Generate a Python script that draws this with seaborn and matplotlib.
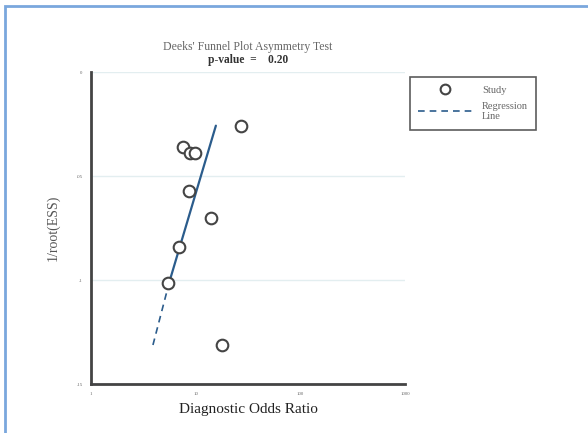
import matplotlib
matplotlib.use("Agg")
import matplotlib.pyplot as plt
import pandas as pd
import seaborn as sns
from matplotlib.lines import Line2D
from matplotlib.patches import Rectangle

# --- Data ---------------------------------------------------------------------
study_dor = [26.9, 7.6, 8.8, 9.9, 8.7, 14.0, 6.9, 5.5, 17.8]
study_inv_ess = [0.0258, 0.0362, 0.0391, 0.0391, 0.0571, 0.0703, 0.0843, 0.1013, 0.1314]

# regression line: solid part, then dashed tail
reg_dor = [15.6, 5.6, 3.9]
reg_inv_ess = [0.0258, 0.101, 0.1314]

x_ticks = [1, 10, 100, 1000]
x_tick_labels = ["1", "10", "100", "1000"]
y_ticks = [0, 0.05, 0.1, 0.15]
y_tick_labels = ["0", ".05", ".1", ".15"]

studies = pd.DataFrame({"dor": study_dor, "inv_ess": study_inv_ess})
reg = pd.DataFrame({"dor": reg_dor, "inv_ess": reg_inv_ess})

# --- Plot ---------------------------------------------------------------------
sns.set_style("white")
plt.rcParams["font.family"] = ["Liberation Serif", "DejaVu Serif"]

fig = plt.figure(figsize=(5.88, 4.33), dpi=100)
ax = fig.add_axes([91 / 588, 1 - 384 / 433, 314 / 588, 312 / 433])

line_color = "#2b5c8c"
sns.lineplot(data=reg.iloc[:2], x="dor", y="inv_ess", ax=ax, color=line_color,
             linewidth=1.6, sort=False, estimator=None)
sns.lineplot(data=reg.iloc[1:], x="dor", y="inv_ess", ax=ax, color=line_color,
             linewidth=1.2, linestyle=(0, (4, 3)), sort=False, estimator=None)
sns.scatterplot(data=studies, x="dor", y="inv_ess", ax=ax, s=70,
                facecolor="white", edgecolor="#444444", linewidth=1.5, zorder=3)

ax.set_xscale("log")
ax.set_xlim(1, 1000)
ax.set_ylim(0.15, 0)
ax.set_xticks(x_ticks)
ax.set_xticklabels(x_tick_labels)
ax.set_yticks(y_ticks)
ax.set_yticklabels(y_tick_labels)
ax.minorticks_off()
ax.tick_params(axis="both", direction="out", length=4, width=1.5, color="#333333",
               labelsize=3.5, labelcolor="#666666", pad=2)

for side in ["top", "right"]:
    ax.spines[side].set_visible(False)
for side in ["left", "bottom"]:
    ax.spines[side].set_color("#444444")
    ax.spines[side].set_linewidth(2)

ax.yaxis.grid(True, color="#e3eef0", linewidth=1)
ax.set_axisbelow(True)

ax.set_xlabel("Diagnostic Odds Ratio", fontsize=11, color="#222222", labelpad=5)
ax.set_ylabel("1/root(ESS)", fontsize=10, color="#555555", labelpad=12)

fig.text(248 / 588, 1 - 47 / 433, "Deeks' Funnel Plot Asymmetry Test",
         ha="center", va="center", fontsize=8.5, color="#666666")
fig.text(248 / 588, 1 - 60 / 433, "p-value  =    0.20",
         ha="center", va="center", fontsize=8.3, fontweight="bold", color="#333333")

handles = [
    Line2D([], [], marker="o", linestyle="none", markerfacecolor="white",
           markeredgecolor="#444444", markeredgewidth=1.5, markersize=7),
    Line2D([], [], color=line_color, linestyle=(0, (4, 3)), linewidth=1.2),
]
leg = fig.legend(handles, ["Study", "Regression\nLine"],
                 loc="upper left", bbox_to_anchor=(410 / 588, 1 - 77 / 433),
                 fontsize=7.5, frameon=True, fancybox=False, edgecolor="#333333",
                 handlelength=5.2, handletextpad=0.9, borderpad=0.8,
                 labelspacing=0.7, borderaxespad=0)
leg.get_frame().set_linewidth(1.2)
for t in leg.get_texts():
    t.set_color("#666666")

# light blue frame around the picture
fig.patches.append(Rectangle((5 / 588, -0.05), 1.1, 1 - 6 / 433 + 0.05,
                             transform=fig.transFigure, fill=False,
                             edgecolor="#7aa7dd", linewidth=2))

fig.savefig("out.png", dpi=100)
plt.close(fig)
